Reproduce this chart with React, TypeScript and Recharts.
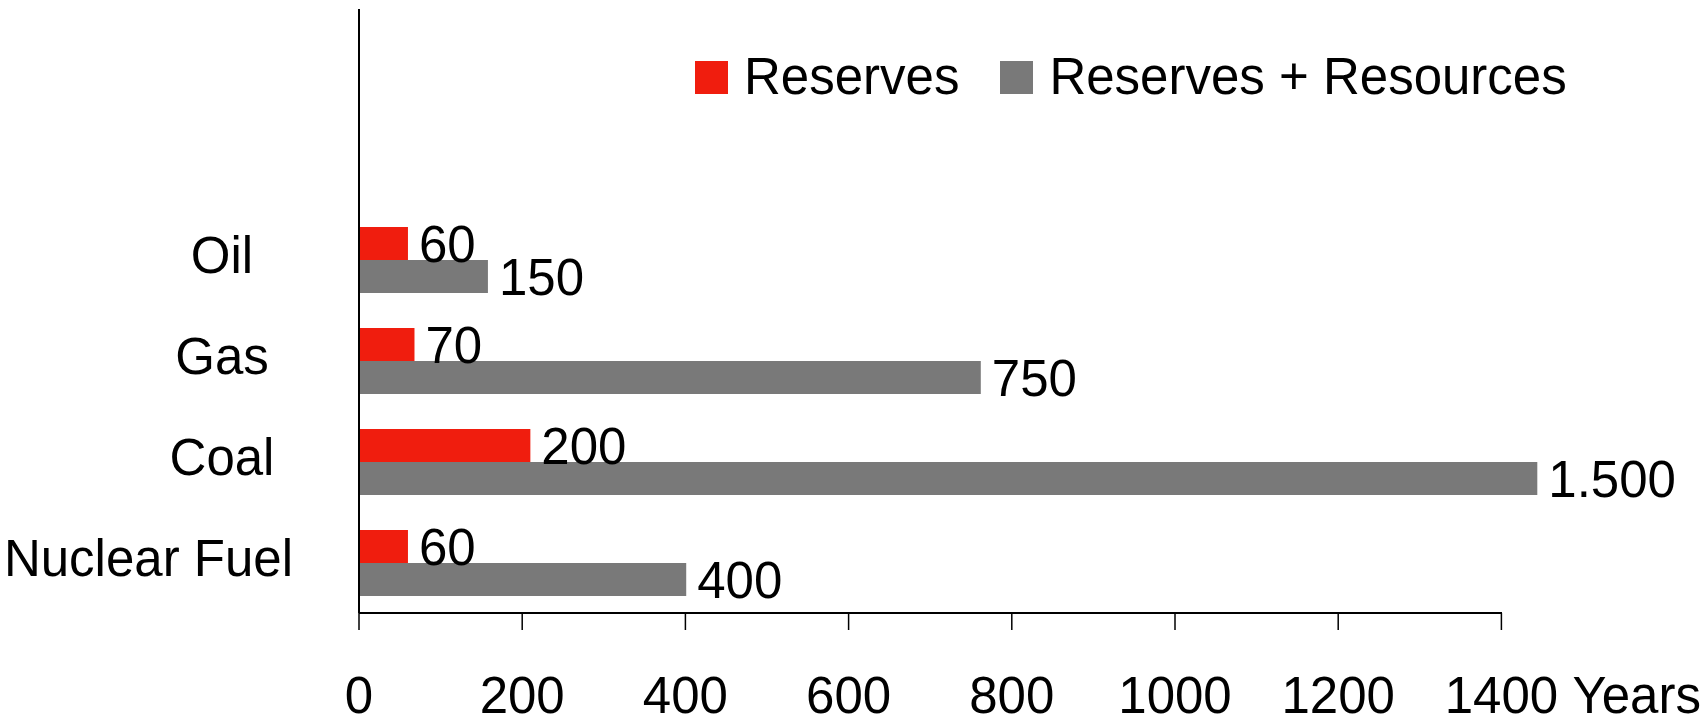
import React from 'react';
import { Bar, BarChart, LabelList, Legend, XAxis, YAxis } from 'recharts';

const categories = ['Oil', 'Gas', 'Coal', 'Nuclear Fuel'];
// bar lengths as drawn (years)
const reserves = [60, 68, 210, 60];
const reservesPlusResources = [158, 762, 1444, 401];
// value labels as printed next to the bars
const reservesLabels = ['60', '70', '200', '60'];
const totalLabels = ['150', '750', '1.500', '400'];
const xTicks = [0, 200, 400, 600, 800, 1000, 1200, 1400];

const RED = '#F01D0E';
const GRAY = '#797979';
const FONT = '"Liberation Sans", Arial, sans-serif';
const FS = 51;

const data = categories.map((name, i) => ({
    name,
    reserves: reserves[i],
    total: reservesPlusResources[i],
    reservesLabel: reservesLabels[i],
    totalLabel: totalLabels[i],
}));

let ctx: CanvasRenderingContext2D | null = null;
function textWidth(s: string) {
    if (!ctx) ctx = document.createElement('canvas').getContext('2d');
    if (!ctx) return s.length * FS * 0.5;
    ctx.font = `${FS}px ${FONT}`;
    return ctx.measureText(s).width;
}

function XTick({ x, y, payload }: any) {
    return (
        <g>
            <text x={x} y={y} dy="0.71em" textAnchor="middle" fontSize={FS} fontFamily={FONT} fill="#000">
                {payload.value}
            </text>
            {payload.value === 1400 && (
                <text x={x + 71} y={y} dy="0.71em" textAnchor="start" fontSize={FS} fontFamily={FONT} fill="#000">
                    Years
                </text>
            )}
        </g>
    );
}

// category labels are centred in the left column, but never run past its right edge
function YTick({ y, payload }: any) {
    const w = textWidth(String(payload.value));
    const cx = Math.min(222, 293 - w / 2);
    return (
        <text x={cx} y={y - 5} dy="0.355em" textAnchor="middle" fontSize={FS} fontFamily={FONT} fill="#000">
            {payload.value}
        </text>
    );
}

function LegendContent() {
    const items = [
        { label: 'Reserves', color: RED },
        { label: 'Reserves + Resources', color: GRAY },
    ];
    return (
        <div style={{ display: 'flex', alignItems: 'center', fontFamily: FONT, fontSize: FS, lineHeight: '50px', color: '#000', whiteSpace: 'nowrap' }}>
            {items.map((it, i) => (
                <div key={it.label} style={{ display: 'flex', alignItems: 'center', marginLeft: i === 0 ? 0 : 41 }}>
                    <div style={{ width: 33, height: 33, background: it.color, marginRight: 16 }} />
                    <span>{it.label}</span>
                </div>
            ))}
        </div>
    );
}

export default function App() {
    return (
        <div style={{ position: 'absolute', left: 0, top: 0, background: '#fff' }}>
            <BarChart
                width={1703}
                height={723}
                data={data}
                layout="vertical"
                margin={{ top: 9, right: 120, bottom: 0, left: 0 }}
                barGap={0}
                barSize={33}
            >
                <XAxis
                    type="number"
                    domain={[0, 1500]}
                    ticks={xTicks}
                    height={110}
                    tickSize={17}
                    tickMargin={47}
                    tickLine={{ stroke: '#000', strokeWidth: 1.5 }}
                    axisLine={{ stroke: '#000', strokeWidth: 2, strokeDasharray: '1143 500' }}
                    tick={<XTick />}
                    interval={0}
                />
                <YAxis
                    type="category"
                    dataKey="name"
                    width={359}
                    padding={{ top: 200, bottom: 0 }}
                    tickSize={0}
                    tickLine={false}
                    axisLine={{ stroke: '#000', strokeWidth: 2 }}
                    tick={<YTick />}
                    interval={0}
                />
                <Legend
                    verticalAlign="middle"
                    align="center"
                    layout="horizontal"
                    content={<LegendContent />}
                    wrapperStyle={{ top: 52, left: 695, width: 'auto' }}
                />
                <Bar dataKey="reserves" fill={RED} isAnimationActive={false}>
                    <LabelList dataKey="reservesLabel" position="right" offset={11} fontSize={FS} fontFamily={FONT} fill="#000" />
                </Bar>
                <Bar dataKey="total" fill={GRAY} isAnimationActive={false}>
                    <LabelList dataKey="totalLabel" position="right" offset={11} fontSize={FS} fontFamily={FONT} fill="#000" />
                </Bar>
            </BarChart>
        </div>
    );
}
